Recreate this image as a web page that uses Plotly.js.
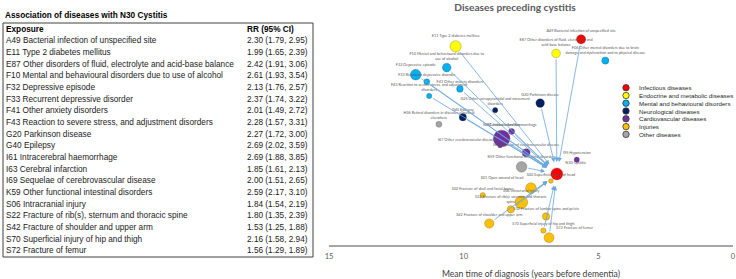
<!DOCTYPE html>
<html><head><meta charset="utf-8">
<script src="https://cdn.plot.ly/plotly-3.0.1.min.js"></script>
<style>html,body{margin:0;padding:0;background:#fff}#chart{width:736px;height:279px}</style>
</head><body><div id="chart"></div>
<script>
// ---------- Table data ----------
const tableTitle = 'Association of diseases with N30 Cystitis';
const tableHeader = ['Exposure', 'RR (95% CI)'];
const exposures = [
  'A49 Bacterial infection of unspecified site',
  'E11 Type 2 diabetes mellitus',
  'E87 Other disorders of fluid, electrolyte and acid-base balance',
  'F10 Mental and behavioural disorders due to use of alcohol',
  'F32 Depressive episode',
  'F33 Recurrent depressive disorder',
  'F41 Other anxiety disorders',
  'F43 Reaction to severe stress, and adjustment disorders',
  'G20 Parkinson disease',
  'G40 Epilepsy',
  'I61 Intracerebral haemorrhage',
  'I63 Cerebral infarction',
  'I69 Sequelae of cerebrovascular disease',
  'K59 Other functional intestinal disorders',
  'S06 Intracranial injury',
  'S22 Fracture of rib(s), sternum and thoracic spine',
  'S42 Fracture of shoulder and upper arm',
  'S70 Superficial injury of hip and thigh',
  'S72 Fracture of femur'
];
const rrEst  = [2.30,1.99,2.42,2.61,2.13,2.37,2.01,2.28,2.27,2.69,2.69,1.85,2.00,2.59,1.84,1.80,1.53,2.16,1.56];
const rrLow  = [1.79,1.65,1.91,1.93,1.76,1.74,1.49,1.57,1.72,2.02,1.88,1.61,1.51,2.17,1.54,1.35,1.25,1.58,1.29];
const rrHigh = [2.95,2.39,3.06,3.54,2.57,3.22,2.72,3.31,3.00,3.59,3.85,2.13,2.65,3.10,2.19,2.39,1.88,2.94,1.89];

// ---------- Network data ----------
const categories = ['Infectious diseases','Endocrine and metabolic diseases','Mental and behavioural disorders',
  'Neurological diseases','Cardiovascular diseases','Injuries','Other diseases'];
const catColors = ['#ff0000','#ffff00','#00b0f0','#002060','#7030a0','#ffc000','#a5a5a5'];

const codes = ['A49','E11','E87','F06','F10','F32','F33','F41','F43','G20','G25','G40','H36',
  'I61','I63','I67','I69','I95','K59','N30','S00','S01','S02','S06','S22','S32','S42','S70','S72'];
const nodeNames = [
  'A49 Bacterial infection of unspecified site',
  'E11 Type 2 diabetes mellitus',
  'E87 Other disorders of fluid, electrolyte and<br>acid-base balance',
  'F06 Other mental disorders due to brain<br>damage and dysfunction and to physical disease',
  'F10 Mental and behavioural disorders due to<br>use of alcohol',
  'F32 Depressive episode',
  'F33 Recurrent depressive disorder',
  'F41 Other anxiety disorders',
  'F43 Reaction to severe stress, and adjustment<br>disorders',
  'G20 Parkinson disease',
  'G25 Other extrapyramidal and movement<br>disorders',
  'G40 Epilepsy',
  'H36 Retinal disorders in diseases classified<br>elsewhere',
  'I61 Intracerebral haemorrhage',
  'I63 Cerebral infarction',
  'I67 Other cerebrovascular diseases',
  'I69 Sequelae of cerebrovascular disease',
  'I95 Hypotension',
  'K59 Other functional intestinal disorders',
  'N30 Cystitis',
  'S00 Superficial injury of head',
  'S01 Open wound of head',
  'S02 Fracture of skull and facial bones',
  'S06 Intracranial injury',
  'S22 Fracture of rib(s), sternum and thoracic<br>spine',
  'S32 Fracture of lumbar spine and pelvis',
  'S42 Fracture of shoulder and upper arm',
  'S70 Superficial injury of hip and thigh',
  'S72 Fracture of femur'
];
const nodeGroup = [0,1,1,2,2,2,2,2,2,3,3,3,6,4,4,4,4,4,6,0,5,5,5,5,5,5,5,5,5];
const meanYears = [5.64,10.30,6.57,4.74,10.63,11.78,11.37,10.14,11.28,7.16,8.83,10.03,10.92,
  8.22,8.59,8.65,7.68,5.80,7.85,6.54,6.76,7.50,9.29,7.86,8.25,6.94,9.05,7.04,6.83];
const bubble = [9.3,11.3,8.7,7.3,8.7,10.7,6,6.7,5.3,8.7,5.3,7.3,6,6,16.7,4.7,8,5.3,10.7,12,4.7,10.7,5.3,12.7,7.3,7.3,9.3,5.3,10];
const outcome = 'N30';

// ---------- styling helpers (not data) ----------
const W = 736, H = 279;
const px = v => v / W, py = v => 1 - v / H;
const labelPos = {N30:'top right', S72:'top right', I67:'top left', S01:'top left'};
const FONT = 'Liberation Sans, Arial, sans-serif';
const CFONT = 'Lato, Open Sans, sans-serif';

const idx = c => codes.indexOf(c);

// node traces, one per category
const traces = categories.map((cat, g) => {
  const ids = codes.map((c,i)=>i).filter(i => nodeGroup[i] === g);
  return {
    type: 'scatter', mode: 'markers+text', name: cat, showlegend: false,
    x: ids.map(i => meanYears[i]),
    y: ids.map(i => codes[i]),
    text: ids.map(i => nodeNames[i]),
    textposition: ids.map(i => labelPos[codes[i]] || 'top center'),
    textfont: {size: 3.8, color: '#595959', family: CFONT},
    marker: {size: ids.map(i => bubble[i]), sizemode: 'diameter', color: catColors[g],
             line: {color: 'rgba(70,70,70,0.55)', width: 0.5}, opacity: 1},
    hoverinfo: 'text', cliponaxis: false
  };
});

const annotations = [];
const shapes = [];

// edges: every exposure in the table points to the outcome
const tIdx = idx(outcome);
exposures.forEach(e => {
  const s = idx(e.slice(0,3));
  annotations.push({
    x: meanYears[tIdx], y: tIdx, ax: meanYears[s], ay: s,
    xref: 'x', yref: 'y', axref: 'x', ayref: 'y',
    text: '', showarrow: true, arrowhead: 2, arrowsize: 1.1, arrowwidth: 0.8,
    arrowcolor: '#6aa6dc', standoff: 12, startstandoff: bubble[s] / 2
  });
});

// table title & box
annotations.push({xref:'paper', yref:'paper', x: px(2.5), y: py(16), xanchor:'left', yanchor:'middle',
  text: '<b>' + tableTitle + '</b>', showarrow:false, font:{family:FONT, size:8.25, color:'#000'}});
shapes.push({type:'rect', xref:'paper', yref:'paper', x0:px(3), x1:px(313), y0:py(257), y1:py(23),
  line:{color:'#404040', width:1}, fillcolor:'rgba(0,0,0,0)'});
annotations.push({xref:'paper', yref:'paper', x: px(4), y: py(29.5), xanchor:'left', yanchor:'middle',
  text:'<b>'+tableHeader[0]+'</b>', showarrow:false, font:{family:FONT, size:8.25, color:'#000'}});
annotations.push({xref:'paper', yref:'paper', x: px(245), y: py(29.5), xanchor:'left', yanchor:'middle',
  text:'<b>'+tableHeader[1]+'</b>', showarrow:false, font:{family:FONT, size:8.25, color:'#000'}});
const rowTop = 41, rowStep = 11.65;
exposures.forEach((e,i) => {
  const yy = py(rowTop + i*rowStep);
  annotations.push({xref:'paper', yref:'paper', x: px(4), y: yy, xanchor:'left', yanchor:'middle',
    text: e, showarrow:false, font:{family:FONT, size:8.25, color:'#1a1a1a'}});
  annotations.push({xref:'paper', yref:'paper', x: px(245), y: yy, xanchor:'left', yanchor:'middle',
    text: rrEst[i].toFixed(2)+' ('+rrLow[i].toFixed(2)+', '+rrHigh[i].toFixed(2)+')',
    showarrow:false, font:{family:FONT, size:8.25, color:'#1a1a1a'}});
});

// manual legend
categories.forEach((c,i) => {
  const yc = 87.7 + i*7.78;
  shapes.push({type:'circle', xref:'paper', yref:'paper', xsizemode:'pixel', ysizemode:'pixel',
    xanchor: px(626), yanchor: py(yc), x0:-3.2, x1:3.2, y0:-3.2, y1:3.2,
    fillcolor: catColors[i], line:{color:'#3a3a3a', width:0.8}});
  annotations.push({xref:'paper', yref:'paper', x: px(637), y: py(yc), xanchor:'left', yanchor:'middle',
    text: c, showarrow:false, font:{family:FONT, size:6.2, color:'#262626'}});
});

const layout = {
  width: W, height: H,
  margin: {l:0, r:0, t:0, b:0},
  paper_bgcolor: '#fff', plot_bgcolor: '#fff',
  showlegend: false,
  title: {text: 'Diseases preceding cystitis', x: 515/W, xanchor: 'center', y: 1 - 7/H, yanchor: 'middle',
          font: {family: CFONT, size: 10.2, color: '#595959', weight: 'bold'}},
  xaxis: {domain: [329/W, 733/W], range: [15, 0], showgrid: false, zeroline: false,
          showline: true, linecolor: '#a6a6a6', linewidth: 1.5, ticks: '', ticklabelstandoff: 3,
          tickvals: [15,10,5,0], tickfont: {family: CFONT, size: 7.5, color: '#595959'},
          title: {text: 'Mean time of diagnosis (years before dementia)', standoff: 13,
                  font: {family: CFONT, size: 8.6, color: '#404040'}}, fixedrange: true},
  yaxis: {domain: [1 - 245/H, 1 - 20/H], type: 'category', categoryarray: codes, categoryorder: 'array',
          range: [29.03, -2.72], visible: false, fixedrange: true},
  annotations: annotations,
  shapes: shapes
};

Plotly.newPlot('chart', traces, layout, {displayModeBar: false, staticPlot: true});
</script>
</body></html>
